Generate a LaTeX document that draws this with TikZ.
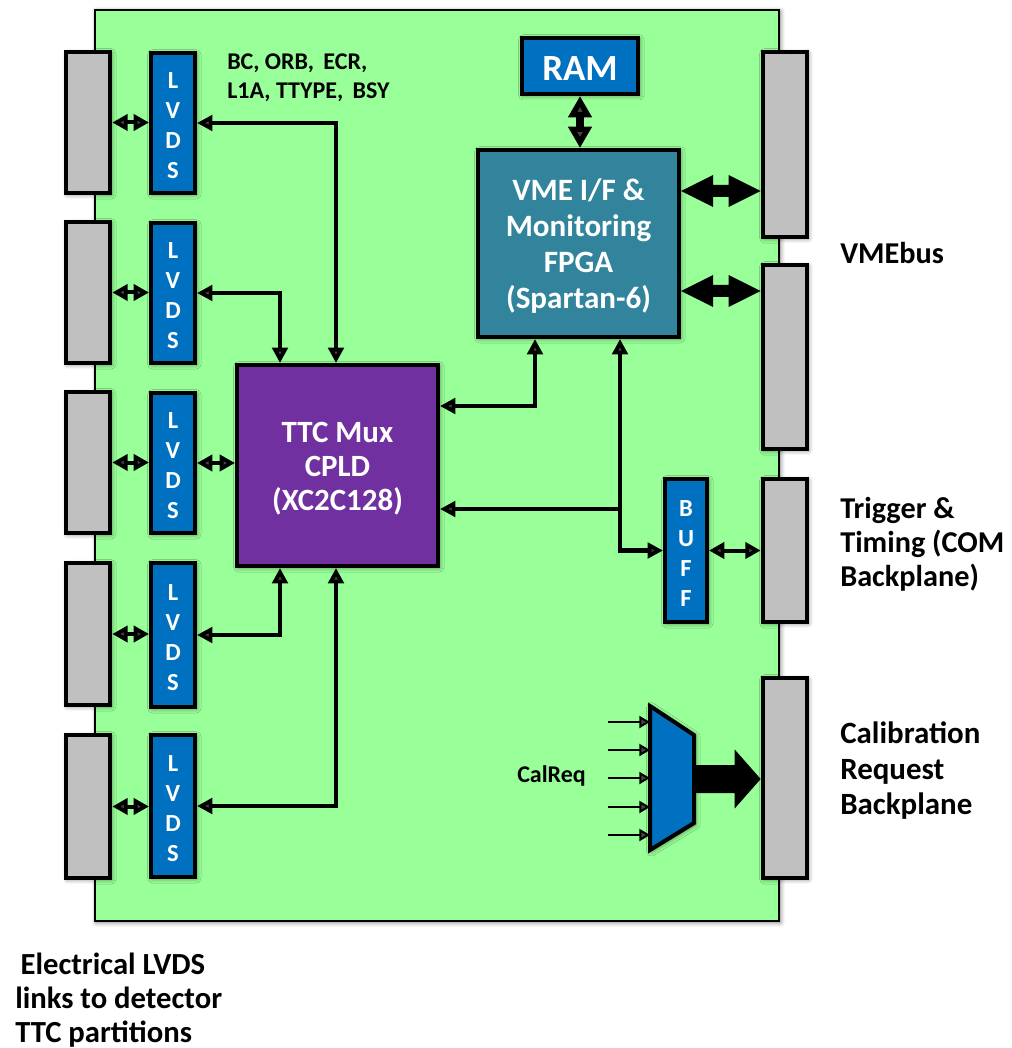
\documentclass[tikz,border=0pt]{standalone}
\usepackage{fontspec}
\setmainfont{Carlito}
\usetikzlibrary{arrows.meta,calc,fit,shadows.blur}
\definecolor{boardgreen}{HTML}{99FF99}
\definecolor{conngray}{HTML}{C0C0C0}
\definecolor{chipblue}{HTML}{0070C0}
\definecolor{fpgateal}{HTML}{31849B}
\definecolor{cpldpurple}{HTML}{7030A0}
\tikzset{
  shd/.style={blur shadow={shadow blur radius=3.5pt, shadow xshift=1pt, shadow yshift=-1pt, shadow opacity=55}},
  board/.style={draw=black, line width=1.2pt, fill=boardgreen, inner sep=0pt, shd},
  conn/.style={draw=black, line width=3.5pt, fill=conngray, inner sep=0pt, shd},
  chip/.style={draw=black, line width=3pt, inner sep=0pt, shd},
  chiptext/.style={text=white, align=center, inner sep=0pt, yshift=-2.2pt},
  lvdstext/.style={chiptext, font=\bfseries\fontsize{18.4pt}{22.5pt}\selectfont},
  sig/.style={line width=3.6pt, >={Triangle[length=11.5pt,width=11.5pt]}},
  smalldbl/.style={line width=3pt, >={Triangle[length=11.5pt,width=12pt]}, <->},
  ramdbl/.style={line width=6pt, >={Triangle[length=16pt,width=17pt]}, <->},
  muxin/.style={line width=1.5pt, >={Triangle[length=8pt,width=9pt]}, ->},
  bigfill/.style={fill=black, draw=none},
  lbl/.style={font=\bfseries\fontsize{22.7pt}{25.5pt}\selectfont, align=left, anchor=west, inner sep=0pt},
}
\begin{document}
\begin{tikzpicture}[x=0.75pt,y=-0.75pt]
\useasboundingbox (0,0) rectangle (1011,1048);

% board
\node[board, fit={(95,10) (779,921)}] (board) {};

% left connectors and LVDS buffers
\foreach \n/\a/\b in {1/52/193, 2/222/363, 3/392/533, 4/563/705, 5/735/878}
  \node[conn, fit={(66,\a) (110,\b)}] (cl\n) {};
\foreach \n/\a/\b in {1/53/193, 2/223/363, 3/393/533, 4/563/707, 5/735/877} {
  \node[chip, fill=chipblue, fit={(151,\a) (195,\b)}] (lv\n) {};
  \node[lvdstext] (lvt\n) at (lv\n.center) {L\\V\\D\\S};
}

% right connectors
\node[conn, fit={(763,52) (807,237)}] (cr1) {};
\node[conn, fit={(763,265) (807,449)}] (cr2) {};
\node[conn, fit={(763,479) (807,622)}] (cr3) {};
\node[conn, fit={(763,678) (807,878)}] (cr4) {};

% chips
\node[chip, fill=cpldpurple, fit={(237,365) (438,566)}] (cpld) {};
\node[chiptext, font=\bfseries\fontsize{23.2pt}{25.5pt}\selectfont] (cpldt) at (cpld.center) {TTC Mux\\CPLD\\(XC2C128)};
\node[chip, fill=fpgateal, fit={(478,150) (679,337)}] (fpga) {};
\node[chiptext, font=\bfseries\fontsize{23.3pt}{27pt}\selectfont] (fpgat) at (fpga.center) {VME I/F \&\\Monitoring\\FPGA\\(Spartan-6)};
\node[chip, fill=chipblue, fit={(522,38) (638,94)}] (ram) {};
\node[chiptext, font=\bfseries\fontsize{27.7pt}{30pt}\selectfont] (ramt) at (ram.center) {RAM};
\node[chip, fill=chipblue, fit={(665,479) (707,622)}] (buff) {};
\node[lvdstext] (bufft) at (buff.center) {B\\U\\F\\F};

% multiplexer
\draw[draw=black, line width=3pt, fill=chipblue, shd]
  (650,706) -- (694,735) -- (694,823) -- (650,850) -- cycle;
\coordinate (muxout) at (694,779);
\foreach \n/\y in {1/722, 2/750, 3/778, 4/807, 5/835} {
  \coordinate (mi\n) at (608,\y);
  \coordinate (mt\n) at (650,\y);
  \draw[muxin] (mi\n) -- (mt\n);
}
\coordinate (muxtip) at (muxout -| cr4.west);
\fill[bigfill] ($(muxout)+(0,-14)$) -- ($(muxtip)+(-26,-14)$) -- ($(muxtip)+(-26,-29.5)$)
  -- (muxtip) -- ($(muxtip)+(-26,29.5)$) -- ($(muxtip)+(-26,14)$) -- ($(muxout)+(0,14)$) -- cycle;

% connector <-> LVDS links
\foreach \n in {1,...,5}
  \draw[smalldbl] (cl\n.east) -- (cl\n.east -| lv\n.west);

% LVDS <-> CPLD
\draw[sig, <->] (lv1.east) -| ($(cpld.north west)+(101,0)$);
\draw[sig, <->] (lv2.east) -| ($(cpld.north west)+(45,0)$);
\draw[smalldbl] (lv3.east) -- (lv3.east -| cpld.west);
\draw[sig, <->] (lv4.east) -| ($(cpld.south west)+(45,0)$);
\draw[sig, <->] (lv5.east) -| ($(cpld.south west)+(101,0)$);

% CPLD <-> FPGA
\draw[sig, <->] ($(cpld.north east)+(0,43)$) -| ($(fpga.south west)+(59,0)$);
\draw[sig, <->] ($(fpga.south west)+(144,0)$) |- (buff.west);
\coordinate (jn) at ($(fpga.south west)+(144,170)$);
\draw[sig, ->] (jn) -- (jn -| cpld.east);

% RAM, BUFF
\draw[ramdbl] (ram.south) -- (ram.south |- fpga.north);
\draw[smalldbl] (buff.east) -- (buff.east -| cr3.west);

% FPGA <-> VMEbus (wide double arrows)
\foreach \k/\dy in {1/43, 2/143} {
  \coordinate (va\k) at ($(fpga.north east)+(0,\dy)$);
  \coordinate (vb\k) at (va\k -| cr\k.west);
  \fill[bigfill] (va\k) -- ($(va\k)+(32,-16)$) -- ($(va\k)+(32,-6)$) -- ($(vb\k)+(-32,-6)$)
    -- ($(vb\k)+(-32,-16)$) -- (vb\k) -- ($(vb\k)+(-32,16)$) -- ($(vb\k)+(-32,6)$)
    -- ($(va\k)+(32,6)$) -- ($(va\k)+(32,16)$) -- cycle;
}

% labels
\node[lbl, font=\bfseries\fontsize{18pt}{21.75pt}\selectfont] (sigs) at (227,78) {BC, ORB,\, ECR,\\L1A, TTYPE,\, BSY};
\node[lbl] (vme) at (840,253) {VMEbus};
\node[lbl] (trig) at (840,544) {Trigger \&\\Timing (COM\\Backplane)};
\node[lbl, font=\bfseries\fontsize{23.2pt}{26.6pt}\selectfont] (cal) at (840,771) {Calibration\\Request\\Backplane};
\node[lbl, font=\bfseries\fontsize{23pt}{25.5pt}\selectfont] (links) at (15,1000) {\hspace{4pt}Electrical LVDS\\links to detector\\TTC partitions};
\node[lbl, font=\bfseries\fontsize{18pt}{20pt}\selectfont] (calreq) at (517,776) {CalReq};
\end{tikzpicture}
\end{document}
